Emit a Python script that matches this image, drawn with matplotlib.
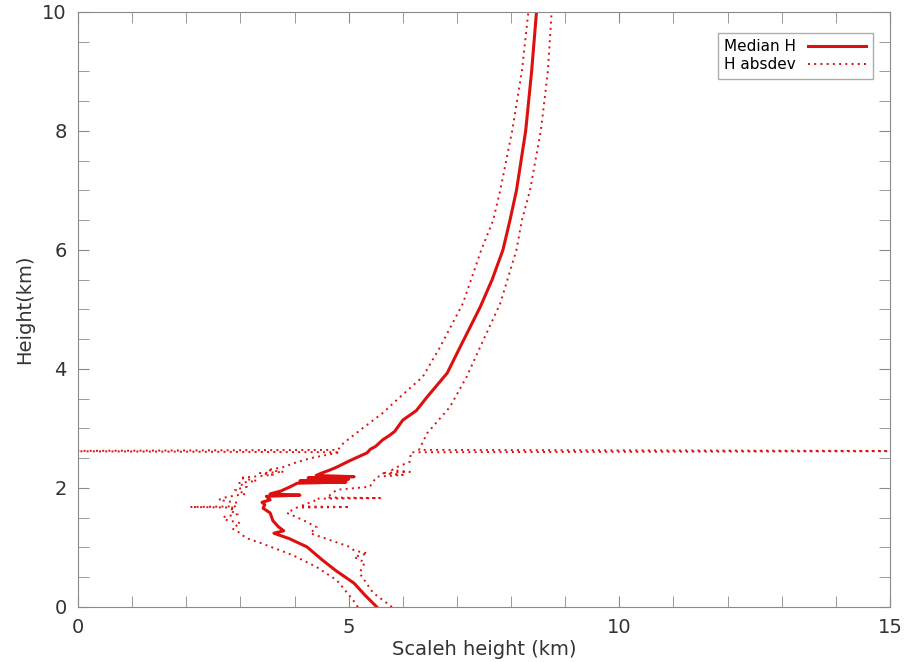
import matplotlib
matplotlib.use("Agg")
import matplotlib.pyplot as plt
from matplotlib.ticker import MultipleLocator

RED = "#dd1010"
INK = "#333333"
EDGE = "#8a8a8a"

# median scale height profile (height km, scale height km)
med_z = [0.0, 0.2, 0.4, 0.62, 0.8, 1.01, 1.15, 1.22, 1.24, 1.28, 1.35, 1.45, 1.58, 1.66,
         1.72, 1.76, 1.8, 1.86, 1.88, 1.9, 1.95, 2.02, 2.08, 2.1, 2.12, 2.15, 2.17, 2.19,
         2.21, 2.25, 2.3, 2.35, 2.45, 2.59, 2.65, 2.7, 2.81, 2.88, 2.95, 3.14, 3.3, 3.53,
         3.93, 4.37, 5.04, 5.5, 6.0, 6.5, 7.0, 8.0, 9.0, 10.0]
med_h = [5.52, 5.3, 5.1, 4.75, 4.5, 4.23, 3.9, 3.68, 3.62, 3.8, 3.7, 3.6, 3.55, 3.42,
         3.45, 3.4, 3.55, 3.48, 4.1, 3.55, 3.75, 3.92, 4.05, 4.95, 4.1, 5.0, 4.25, 5.1,
         4.4, 4.5, 4.65, 4.78, 5.0, 5.34, 5.4, 5.5, 5.63, 5.75, 5.85, 6.0, 6.25, 6.45,
         6.82, 7.06, 7.43, 7.65, 7.85, 7.98, 8.1, 8.27, 8.38, 8.47]

# median - absdev
lo_z = [0.0, 0.12, 0.45, 0.67, 0.87, 1.08, 1.16, 1.24, 1.32, 1.41, 1.46, 1.51, 1.56, 1.62,
        1.67, 1.68, 1.69, 1.75, 1.8, 1.85, 1.9, 1.97, 2.02, 2.08, 2.12, 2.17, 2.22, 2.25,
        2.27, 2.3, 2.35, 2.42, 2.5, 2.6, 2.62, 2.64, 2.75, 2.97, 3.26, 3.48, 3.87, 4.37,
        5.1, 6.0, 6.5, 7.0, 8.0, 9.0, 10.0]
lo_h = [5.17, 5.08, 4.78, 4.41, 3.97, 3.36, 3.1, 3.0, 2.85, 3.0, 2.75, 2.68, 2.95, 2.8,
        2.9, 2.07, 2.9, 2.95, 2.6, 2.75, 3.1, 2.9, 3.12, 2.95, 3.3, 2.99, 3.6, 3.36,
        3.8, 3.5, 3.79, 4.0, 4.29, 4.84, -1.0, 4.8, 4.9, 5.21, 5.63, 5.89, 6.37, 6.69,
        7.11, 7.45, 7.67, 7.8, 8.02, 8.2, 8.32]

# median + absdev
hi_z = [0.0, 0.24, 0.57, 0.75, 0.84, 0.9, 0.95, 1.01, 1.24, 1.34, 1.46, 1.58, 1.67, 1.68,
        1.69, 1.8, 1.82, 1.83, 1.84, 1.97, 2.02, 2.1, 2.19, 2.22, 2.25, 2.27, 2.3, 2.35,
        2.44, 2.6, 2.62, 2.64, 2.92, 3.36, 3.87, 4.37, 5.1, 6.0, 6.5, 7.0, 8.0, 9.0, 10.0]
hi_h = [5.8, 5.45, 5.2, 5.3, 5.1, 5.35, 5.1, 5.02, 4.29, 4.41, 4.16, 3.86, 4.04, 5.02,
        4.1, 4.41, 4.4, 5.58, 4.6, 4.78, 5.39, 5.45, 5.52, 6.0, 5.6, 6.13, 5.8, 5.89,
        6.13, 6.15, 16.0, 6.3, 6.45, 6.87, 7.18, 7.43, 7.8, 8.1, 8.2, 8.35, 8.55, 8.68, 8.75]

fig = plt.figure(figsize=(9.1, 6.62), dpi=100)
ax = fig.add_axes([0.0857, 0.0831, 0.8923, 0.8989])

ax.plot(med_h, med_z, color=RED, lw=2.2, label="Median H")
ax.plot(lo_h, lo_z, color=RED, lw=1.4, ls=(0, (1, 2.2)), label="H absdev")
ax.plot(hi_h, hi_z, color=RED, lw=1.4, ls=(0, (1, 2.2)))

ax.set_xlim(0, 15)
ax.set_ylim(0, 10)
ax.xaxis.set_major_locator(MultipleLocator(5))
ax.xaxis.set_minor_locator(MultipleLocator(1))
ax.yaxis.set_major_locator(MultipleLocator(2))
ax.yaxis.set_minor_locator(MultipleLocator(0.5))
ax.tick_params(which="both", direction="in", top=True, right=True, length=8,
               color=EDGE, labelsize=14, labelcolor=INK, pad=8)
for s in ax.spines.values():
    s.set_color(EDGE)

ax.set_xlabel("Scaleh height (km)", fontsize=14, color=INK, labelpad=2)
ax.set_ylabel("Height(km)", fontsize=14, color=INK, labelpad=6)

leg = ax.legend(loc="upper right", bbox_to_anchor=(0.988, 0.977), markerfirst=False,
                fontsize=11, handlelength=3.8, fancybox=False, borderpad=0.4,
                labelspacing=0.2, handletextpad=0.8)
leg.get_frame().set_edgecolor("#999999")
leg.get_frame().set_linewidth(1.0)

fig.savefig("out.png", dpi=100)
